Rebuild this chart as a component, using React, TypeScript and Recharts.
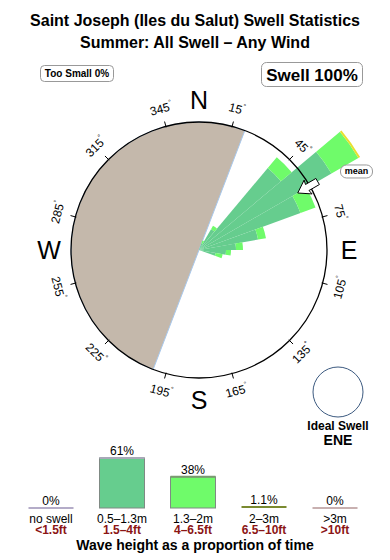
import React from 'react';
import {
  PieChart, Pie, RadialBarChart, RadialBar, RadarChart, PolarAngleAxis, PolarRadiusAxis,
  BarChart, Bar, XAxis, YAxis, LabelList,
} from 'recharts';

const FONT = '"Liberation Sans", Arial, Helvetica, sans-serif';

// --- rose data: 10° direction bins (listed from the 350–360 bin), radial length per height class ---
const bearings = [
  355, 5, 15, 25, 35, 45, 55, 65, 75, 85, 95, 105,
  115, 125, 135, 145, 155, 165, 175, 185, 195, 205, 215, 225,
  235, 245, 255, 265, 275, 285, 295, 305, 315, 325, 335, 345,
];
const swellSmall = [0, 0, 0, 7, 24, 107, 153, 108, 60, 37, 27, 17, 0, 0, 0, 0, 0, 0, 0, 0, 0, 0, 0, 0, 0, 0, 0, 0, 0, 0, 0, 0, 0, 0, 0, 0];
const swellMid = [0, 0, 0, 3, 4, 14, 31, 16, 8, 7, 5, 7, 0, 0, 0, 0, 0, 0, 0, 0, 0, 0, 0, 0, 0, 0, 0, 0, 0, 0, 0, 0, 0, 0, 0, 0];
const swellBig = [0, 0, 0, 0, 0, 0, 2, 0, 0, 0, 0, 0, 0, 0, 0, 0, 0, 0, 0, 0, 0, 0, 0, 0, 0, 0, 0, 0, 0, 0, 0, 0, 0, 0, 0, 0];

// --- compass ring: every 15° ---
const ringBearings = [0, 15, 30, 45, 60, 75, 90, 105, 120, 135, 150, 165, 180, 195, 210, 225, 240, 255, 270, 285, 300, 315, 330, 345];
const degreeTicks = [15, 45, 75, 105, 135, 165, 195, 225, 255, 285, 315, 345];
const compassNames = ['N', 'E', 'S', 'W'];
const meanDirection = 60;
const shadowFrom = 21; // land shadow, bearings (clockwise via west)
const shadowTo = 201;

// --- height histogram ---
const heightBands = ['no swell', '0.5–1.3m', '1.3–2m', '2–3m', '>3m'];
const heightFeet = ['<1.5ft', '1.5–4ft', '4–6.5ft', '6.5–10ft', '>10ft'];
const heightShare = [0, 61, 38, 1.1, 0];

const barFills = ['none', '#66cd8e', '#6ffb6a', '#d8d040', 'none'];
const barEdges = ['#b4acc8', '#a8a8b8', '#7a9a70', '#7a8a30', '#c8b0b0'];

const CX = 199;
const CY = 250;
const RIM = 128;
const ROSE_MAX = 200;
const RAD = Math.PI / 180;

const roseData = bearings.map((dir, i) => ({ dir, small: swellSmall[i], mid: swellMid[i], big: swellBig[i] }));
const ringData = ringBearings.map((bearing) => ({ bearing }));
const shadowData = [{ name: 'shadow', value: 1 }];
const heightData = heightBands.map((band, i) => ({ band, feet: heightFeet[i], share: heightShare[i] }));

const RoseTick = (props: any) => {
  const v = Number(props.payload.value);
  const a = props.payload.coordinate;
  const cx = typeof props.cx === 'number' && props.cx > 0 ? props.cx : CX;
  const cy = typeof props.cy === 'number' && props.cy > 0 ? props.cy : CY;
  const pt = (r: number, ang = a) => ({ x: cx + r * Math.cos(-ang * RAD), y: cy + r * Math.sin(-ang * RAD) });

  if (v === meanDirection) {
    const u = { x: Math.cos(-a * RAD), y: Math.sin(-a * RAD) };
    const n = { x: -u.y, y: u.x };
    const at = (r: number, w: number) => `${cx + r * u.x + w * n.x},${cy + r * u.y + w * n.y}`;
    const pts = [at(114, 0), at(126, 8), at(125, 3.5), at(137, 3.5), at(137, -3.5), at(125, -3.5), at(126, -8)].join(' ');
    const lb = pt(176, a - 3.5);
    return (
      <g>
        <polygon points={pts} fill="#fff" stroke="#000" strokeWidth={1} />
        <rect x={lb.x - 16} y={lb.y - 6.5} width={32} height={13} rx={6} fill="#fff" stroke="#999" />
        <text x={lb.x} y={lb.y} textAnchor="middle" dominantBaseline="central" fontSize={9} fontWeight="bold" fontFamily={FONT} fill="#000">mean</text>
      </g>
    );
  }
  if (v % 90 === 0) {
    const p = pt(150);
    return (
      <text x={p.x} y={p.y} textAnchor="middle" dominantBaseline="central" fontSize={25} fontFamily={FONT} fill="#000">
        {compassNames[v / 90]}
      </text>
    );
  }
  if (!degreeTicks.includes(v)) return <g />;
  const t1 = pt(RIM - 1);
  const t2 = pt(RIM + 5);
  const lp = pt(146);
  const rot = ((v + 90) % 180) - 90;
  return (
    <g>
      <line x1={t1.x} y1={t1.y} x2={t2.x} y2={t2.y} stroke="#000" strokeWidth={1} />
      <text x={lp.x} y={lp.y} transform={`rotate(${rot} ${lp.x} ${lp.y})`} textAnchor="middle" dominantBaseline="central" fontSize={12} fontFamily={FONT} fill="#000">
        {v}<tspan fontSize={7} dy={-5}>°</tspan>
      </text>
    </g>
  );
};

const BandTick = (props: any) => {
  const { x, y, payload, index } = props;
  return (
    <g>
      <text x={x} y={y + 7} textAnchor="middle" fontSize={12} fontFamily={FONT} fill="#000">{payload.value}</text>
      <text x={x} y={y + 18} textAnchor="middle" fontSize={12} fontWeight="bold" fontFamily={FONT} fill="#8b1515">{heightFeet[index]}</text>
    </g>
  );
};

const HeightBar = (props: any) => {
  const { x, y, width, height, index } = props;
  return (
    <g>
      {height > 1 && <rect x={x} y={y} width={width} height={height} fill={barFills[index]} stroke="#7f8a84" strokeWidth={1} />}
      <line x1={x} x2={x + width} y1={y} y2={y} stroke={barEdges[index]} strokeWidth={2} />
    </g>
  );
};

const layer: React.CSSProperties = { position: 'absolute', left: 0, top: 0 };

export default function App() {
  return (
    <div style={{ position: 'absolute', left: 0, top: 0, width: 390, height: 560, background: '#fff', fontFamily: FONT, overflow: 'hidden' }}>
      {/* land shadow */}
      <div style={layer}>
        <PieChart width={390} height={440} margin={{ top: 0, right: 0, bottom: 0, left: 0 }}>
          <Pie
            data={shadowData}
            dataKey="value"
            cx={CX}
            cy={CY}
            innerRadius={0}
            outerRadius={RIM}
            startAngle={90 - shadowFrom}
            endAngle={90 - shadowTo + 360}
            fill="#c4b8ab"
            stroke="#a8c8ec"
            strokeWidth={1}
            isAnimationActive={false}
          />
        </PieChart>
      </div>

      {/* swell rose */}
      <div style={layer}>
        <RadialBarChart
          width={390}
          height={440}
          data={roseData}
          layout="centric"
          cx={CX}
          cy={CY}
          innerRadius={0}
          outerRadius={ROSE_MAX}
          startAngle={90}
          endAngle={-270}
          barCategoryGap={0}
          barGap={0}
          margin={{ top: 0, right: 0, bottom: 0, left: 0 }}
        >
          <PolarAngleAxis type="category" dataKey="dir" tick={false} axisLine={false} tickLine={false} />
          <PolarRadiusAxis type="number" domain={[0, ROSE_MAX]} tick={false} axisLine={false} />
          <RadialBar dataKey="small" stackId="h" fill="#66cd8e" isAnimationActive={false} />
          <RadialBar dataKey="mid" stackId="h" fill="#6ffb6a" isAnimationActive={false} />
          <RadialBar dataKey="big" stackId="h" fill="#e8e030" isAnimationActive={false} />
        </RadialBarChart>
      </div>

      {/* rim, degree ticks, compass letters, mean arrow */}
      <div style={layer}>
        <RadarChart
          width={390}
          height={440}
          data={ringData}
          cx={CX}
          cy={CY}
          outerRadius={RIM}
          startAngle={90}
          endAngle={-270}
          margin={{ top: 0, right: 0, bottom: 0, left: 0 }}
        >
          <PolarAngleAxis
            dataKey="bearing"
            tick={<RoseTick />}
            tickLine={false}
            axisLineType="circle"
            axisLine={{ stroke: '#000', strokeWidth: 1.3 }}
          />
        </RadarChart>
      </div>

      <div style={{ ...layer, top: 400 }}>
        <BarChart width={390} height={160} data={heightData} margin={{ top: 26, right: 19.5, left: 15.5, bottom: 22 }} barSize={45}>
          <XAxis dataKey="band" axisLine={false} tickLine={false} height={30} interval={0} tick={<BandTick />} />
          <YAxis hide domain={[0, 100]} />
          <Bar dataKey="share" shape={<HeightBar />} isAnimationActive={false}>
            <LabelList dataKey="share" position="top" offset={3} formatter={(v: any) => `${v}%`} fontSize={12} fontFamily={FONT} fill="#000" />
          </Bar>
        </BarChart>
      </div>

      <svg width={390} height={560} style={{ ...layer, pointerEvents: 'none' }}>
        <text x={195} y={25.5} textAnchor="middle" fontSize={16} fontWeight="bold" fontFamily={FONT}>Saint Joseph (Iles du Salut) Swell Statistics</text>
        <text x={195} y={48} textAnchor="middle" fontSize={16} fontWeight="bold" fontFamily={FONT}>Summer: All Swell – Any Wind</text>

        <rect x={40.5} y={65.5} width={73} height={16} rx={4} fill="#fff" stroke="#999" />
        <text x={77} y={77} textAnchor="middle" fontSize={10} fontWeight="bold" fontFamily={FONT}>Too Small 0%</text>

        <rect x={261.5} y={62.5} width={101} height={24} rx={5} fill="#fff" stroke="#999" />
        <text x={312} y={81} textAnchor="middle" fontSize={17} fontWeight="bold" fontFamily={FONT}>Swell 100%</text>

        <circle cx={338} cy={392} r={25} fill="none" stroke="#3c5a80" strokeWidth={1} />
        <text x={338} y={430} textAnchor="middle" fontSize={12} fontWeight="bold" fontFamily={FONT}>Ideal Swell</text>
        <text x={338} y={445} textAnchor="middle" fontSize={14} fontWeight="bold" fontFamily={FONT}>ENE</text>

        <text x={195} y={550} textAnchor="middle" fontSize={14} fontWeight="bold" fontFamily={FONT}>Wave height as a proportion of time</text>
      </svg>
    </div>
  );
}
